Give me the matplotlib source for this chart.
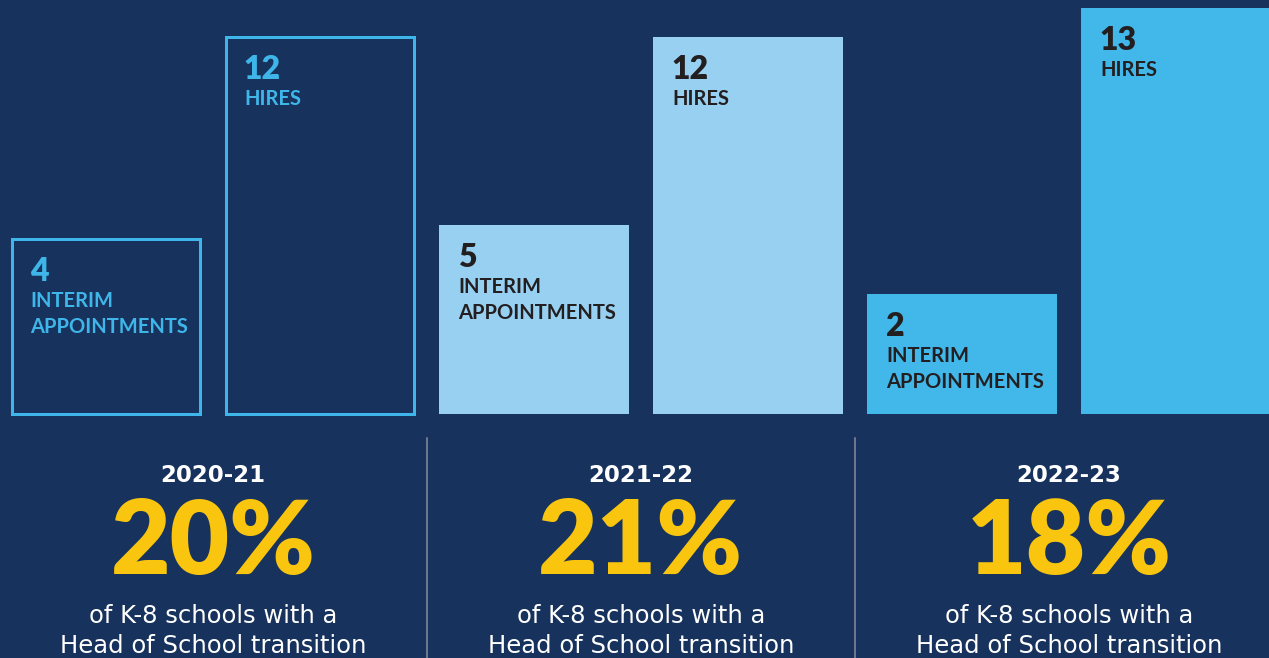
import matplotlib.pyplot as plt
import matplotlib.transforms as mtransforms

# school years and counts
years = ['2020-21', '2021-22', '2022-23']
interim = [4, 5, 2]
hires = [12, 12, 13]
pct_transition = [20, 21, 18]
subtitle = ['of K-8 schools with a', 'Head of School transition']

# bars are not drawn to scale in the original, so keep the drawn heights separately
interim_heights = [5.6, 6.05, 3.85]
hire_heights = [12.07, 12.1, 13.0]

bg = '#17325c'
outline_blue = '#3fb6e9'
light_blue = '#97d0f1'
bright_blue = '#41b7ea'
dark_text = '#231f20'
yellow = '#f9c50f'
divider = '#8b909a'

W, H = 1269, 658
fig = plt.figure(figsize=(W / 100, H / 100), dpi=100, facecolor=bg)
ax = fig.add_axes([0, 1 - 414 / H, 1, 414 / H])
ax.set_facecolor(bg)
ax.set_xlim(-0.495, 5.435)
ax.set_ylim(0, 13.27)
ax.axis('off')

px = 0.72  # points per pixel at dpi 100
w = 0.888

# blended transform: x in data units, y in figure fraction
blend = mtransforms.blended_transform_factory(ax.transData, fig.transFigure)

def fy(p):
    return 1 - p / H

for i, year in enumerate(years):
    x_int = 2 * i
    x_hire = 2 * i + 1
    if i == 0:
        ax.bar([x_int, x_hire], [interim_heights[i], hire_heights[i]], width=w - 0.007,
               facecolor='none', edgecolor=outline_blue, linewidth=3 * px, clip_on=False)
        tc = outline_blue
    else:
        fc = light_blue if i == 1 else bright_blue
        ax.bar([x_int, x_hire], [interim_heights[i], hire_heights[i]], width=w,
               color=fc, linewidth=0)
        tc = dark_text

    for x, h, v, lines in [(x_int, interim_heights[i], interim[i], ['INTERIM', 'APPOINTMENTS']),
                           (x_hire, hire_heights[i], hires[i], ['HIRES'])]:
        ax.annotate(str(v), xy=(x - w / 2, h), xytext=(19 * px, -42 * px),
                    textcoords='offset points', ha='left', va='baseline',
                    fontsize=23, fontweight='heavy', family='Lato', color=tc)
        for k, line in enumerate(lines):
            ax.annotate(line, xy=(x - w / 2, h), xytext=(19 * px, -(68 + 26 * k) * px),
                        textcoords='offset points', ha='left', va='baseline',
                        fontsize=14.5, fontweight='bold', family='Lato', color=tc)

    xc = 2 * i + 0.5
    ax.text(xc, fy(482), year, transform=blend, ha='center', va='baseline',
            fontsize=16.5, fontweight='bold', family='DejaVu Sans', color='white')
    ax.text(xc, fy(574), f'{pct_transition[i]}%', transform=blend, ha='center', va='baseline',
            fontsize=74, fontweight='heavy', family='Lato', color=yellow)
    ax.text(xc, fy(623), subtitle[0], transform=blend, ha='center', va='baseline',
            fontsize=17.5, family='DejaVu Sans', color='white')
    ax.text(xc, fy(653), subtitle[1], transform=blend, ha='center', va='baseline',
            fontsize=17.5, family='DejaVu Sans', color='white')

for xd in [1.5, 3.5]:
    ax.plot([xd, xd], [fy(438), 0], transform=blend, color=divider,
            linewidth=1.5 * px, clip_on=False)

fig.savefig('out.png', dpi=100, facecolor=bg)
